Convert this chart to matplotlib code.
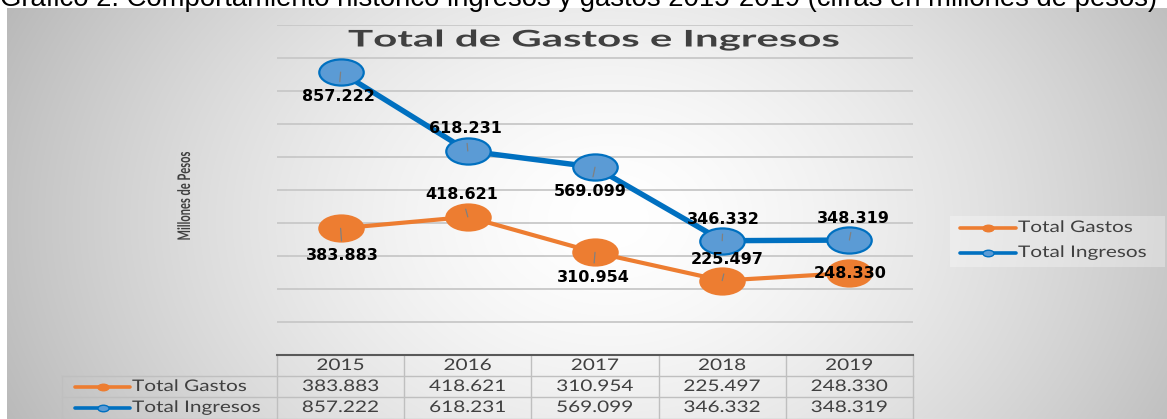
import numpy as np
import matplotlib
matplotlib.use('Agg')
import matplotlib.pyplot as plt
from matplotlib.path import Path
from matplotlib.transforms import Affine2D, blended_transform_factory
from matplotlib.lines import Line2D
from matplotlib.patches import Rectangle
from matplotlib.patheffects import AbstractPathEffect

# ---------------- data ----------------
years = ['2015', '2016', '2017', '2018', '2019']
gastos = [383.883, 418.621, 310.954, 225.497, 248.330]
ingresos = [857.222, 618.231, 569.099, 346.332, 348.319]
series_names = ['Total Gastos', 'Total Ingresos']
grid_values = [100, 200, 300, 400, 500, 600, 700, 800, 900, 1000]
caption = 'Gráfico 2. Comportamiento histórico ingresos y gastos 2015-2019 (cifras en millones de pesos)'
title = 'Total de Gastos e Ingresos'
ylabel = 'Millones de Pesos'

# label offsets in pixels (dx, dy) relative to the point
gastos_off = [(2, -27), (-6, 22), (-2, -25), (5, 21), (1, 0)]
ingresos_off = [(-2, -24), (-2, 22), (-5, -24), (1, 21), (4, 22)]

ORANGE = '#ED7D31'
BLUE_LINE = '#0070C0'
BLUE_FILL = '#5B9BD5'
TXT = '#404040'
GRID = '#c8c8c8'
TBL = '#bfbfbf'
TFONT = 'Lato'
TFS = 11.5  # table / legend font size

W, H = 1167, 419
fig = plt.figure(figsize=(W / 100, H / 100), dpi=100)
fig.patch.set_facecolor('white')
renderer = fig.canvas.get_renderer()


def fx(p):
    return p / W


def fy(p):
    return 1 - p / H


class Stretch(AbstractPathEffect):
    """Scale the glyph outlines of a text around its anchor point."""

    def __init__(self, sx, sy, cx, cy):
        super().__init__()
        self.t = Affine2D().translate(-cx, -cy).scale(sx, sy).translate(cx, cy)

    def draw_path(self, renderer, gc, tpath, affine, rgbFace=None):
        renderer.draw_path(gc, tpath, affine + self.t, rgbFace)


def stretch(t, sx=1.0, sy=1.0):
    x, y = t.get_transform().transform(t.get_position())
    t.set_path_effects([Stretch(sx, sy, x, y)])


# ---------------- background gradient ----------------
bg = fig.add_axes([fx(7), 0, 1 - fx(7), fy(8)])
xs = np.arange(7, W) + 0.5
ys = np.arange(8, H) + 0.5
X, Y = np.meshgrid(xs, ys)
d = np.sqrt(((X - 610) / 590) ** 2 + ((Y - 220) / 440) ** 2)
g = np.clip(1 - 0.23 * np.clip(d, 0, 1.3) ** 1.5, 0, 1)
bg.imshow(np.dstack([g, g, g]), aspect='auto', interpolation='bilinear')
bg.axis('off')
bg.set_zorder(-10)

# caption (cut at top, as in the source)
fig.text(fx(0), fy(6), caption, fontsize=19.8, family='Liberation Sans',
         color='black', ha='left', va='baseline')

# ---------------- main axes ----------------
ax = fig.add_axes([fx(277), fy(355), fx(913) - fx(277), fy(25) - fy(355)])
ax.patch.set_alpha(0)
ax.set_xlim(-0.5, len(years) - 0.5)
ax.set_ylim(0, 1000)
for s in ['top', 'right', 'left']:
    ax.spines[s].set_visible(False)
ax.spines['bottom'].set_color('#595959')
ax.spines['bottom'].set_linewidth(1.5)
ax.set_yticks(grid_values)
ax.set_yticklabels([])
ax.set_xticks([])
ax.tick_params(length=0)
ax.yaxis.grid(True, color=GRID, linewidth=1.3)
ax.set_axisbelow(True)

xpos = np.arange(len(years))
ell = Path.unit_circle().transformed(Affine2D().scale(1.7, 1.0))

ax.plot(xpos, gastos, color=ORANGE, lw=3.0, marker=ell, ms=32,
        mfc=ORANGE, mec=ORANGE, mew=1.5, zorder=3, solid_capstyle='round')
ax.plot(xpos, ingresos, color=BLUE_LINE, lw=3.9, marker=ell, ms=32,
        mfc=BLUE_FILL, mec=BLUE_LINE, mew=1.6, zorder=4, solid_capstyle='round')

for vals, offs in ((gastos, gastos_off), (ingresos, ingresos_off)):
    for i, (v, (dx, dy)) in enumerate(zip(vals, offs)):
        ap = None
        if dy != 0:
            ap = dict(arrowstyle='-', color='#808080', lw=0.9, shrinkA=3, shrinkB=0)
        ax.annotate(f'{v:.3f}', (i, v), xytext=(dx, dy), textcoords='offset pixels',
                    ha='center', va='center', fontsize=11.5, fontweight='bold',
                    family='DejaVu Sans', color='black', arrowprops=ap, zorder=6,
                    annotation_clip=False)

# title (Calibri-like face, widened to the source's proportions)
tt = fig.text(fx(593), fy(46.5), title, ha='center', va='baseline', fontsize=16.5,
              fontweight='bold', family='Lato', color=TXT)
stretch(tt, sx=490.0 / tt.get_window_extent(renderer).width)

# y label (condensed along its length)
yl = fig.text(fx(185), fy(196), ylabel, ha='center', va='center', rotation=90,
              fontsize=12.5, fontweight='bold', family='Lato', color=TXT)
stretch(yl, sy=89.0 / yl.get_window_extent(renderer).height)

# ---------------- data table ----------------
probe = fig.text(0, 0, series_names[1], fontsize=TFS, family=TFONT)
SX = 129.0 / probe.get_window_extent(renderer).width
probe.remove()

tr = blended_transform_factory(ax.transData, fig.transFigure)
row_y = [fy(366), fy(387), fy(408)]
for b in np.arange(len(years) + 1) - 0.5:
    ax.plot([b, b], [fy(355), fy(419)], transform=tr, color=TBL, lw=1, clip_on=False, zorder=1)
for yy in (376, 397, 418.5):
    fig.add_artist(Line2D([fx(62), fx(913)], [fy(yy), fy(yy)], color=TBL, lw=1))
fig.add_artist(Line2D([fx(62), fx(62)], [fy(376), fy(419)], color=TBL, lw=1))

for i, yr in enumerate(years):
    for rv, txt in zip(row_y, (yr, f'{gastos[i]:.3f}', f'{ingresos[i]:.3f}')):
        t = ax.text(i, rv, txt, transform=tr, ha='center', va='center', fontsize=TFS,
                    family=TFONT, color=TXT, clip_on=False)
        stretch(t, sx=SX)


def legend_key(x0, x1, yy, name, line_c, fill_c, edge_c, lw):
    fig.add_artist(Line2D([fx(x0), fx(x1)], [fy(yy), fy(yy)], color=line_c, lw=lw,
                          solid_capstyle='round'))
    fig.add_artist(Line2D([fx((x0 + x1) / 2)], [fy(yy)], marker=ell, ms=8,
                          mfc=fill_c, mec=edge_c, mew=1.0, lw=0))
    t = fig.text(fx(x1 + 2), fy(yy), name, ha='left', va='center', fontsize=TFS,
                 family=TFONT, color=TXT)
    stretch(t, sx=SX)


legend_key(75, 130, 387, series_names[0], ORANGE, ORANGE, ORANGE, 2.6)
legend_key(75, 130, 408, series_names[1], BLUE_LINE, BLUE_FILL, BLUE_LINE, 2.6)

# ---------------- main legend ----------------
fig.add_artist(Rectangle((fx(950), fy(267)), fx(1165) - fx(950), fy(216) - fy(267),
                         transform=fig.transFigure, facecolor='white', alpha=0.3,
                         edgecolor='none'))
legend_key(960, 1016, 228, series_names[0], ORANGE, ORANGE, ORANGE, 2.6)
legend_key(960, 1016, 253, series_names[1], BLUE_LINE, BLUE_FILL, BLUE_LINE, 2.6)

fig.savefig('out.png', dpi=100)
